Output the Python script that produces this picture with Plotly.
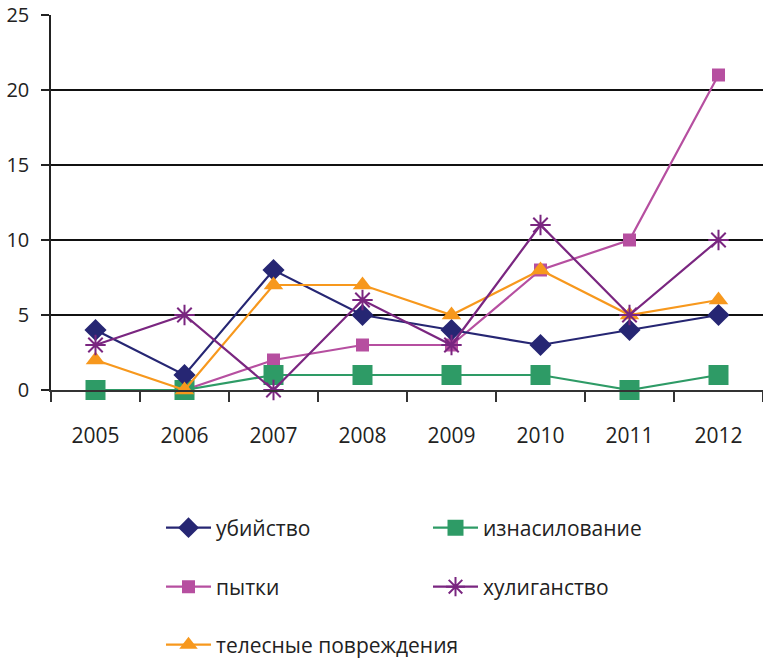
import plotly.graph_objects as go

years = ["2005", "2006", "2007", "2008", "2009", "2010", "2011", "2012"]
ubiystvo = [4, 1, 8, 5, 4, 3, 4, 5]
iznasilovanie = [0, 0, 1, 1, 1, 1, 0, 1]
pytki = [0, 0, 2, 3, 3, 8, 10, 21]
khuliganstvo = [3, 5, 0, 6, 3, 11, 5, 10]
telesnye = [2, 0, 7, 7, 5, 8, 5, 6]
y_ticks = [0, 5, 10, 15, 20, 25]

FONT = "Open Sans"
fig = go.Figure()

def add(name, vals, color, symbol, size, legend, rank, mline=None):
    marker = dict(symbol=symbol, size=size, color=color)
    if mline:
        marker["line"] = dict(color=color, width=mline)
    fig.add_trace(go.Scatter(
        x=years, y=vals, name=name, mode="lines+markers",
        line=dict(color=color, width=2.2), marker=marker,
        legend=legend, legendrank=rank, cliponaxis=False))

add("пытки", pytki, "#b64fa0", "square", 13, "legend2", 1)
add("изнасилование", iznasilovanie, "#2e9b66", "square", 20, "legend", 2)
add("убийство", ubiystvo, "#262673", "diamond", 17, "legend", 1)
add("телесные повреждения", telesnye, "#f7981d", "triangle-up", 17, "legend3", 1)
add("хулиганство", khuliganstvo, "#7a2680", "asterisk-open", 17, "legend2", 2, mline=2)

leg_common = dict(orientation="h", x=0.1545, xanchor="left", yanchor="middle",
                  yref="container",
                  font=dict(family=FONT, size=21, color="#222"),
                  bgcolor="rgba(0,0,0,0)", itemwidth=45)
leg_cols = dict(entrywidth=207, entrywidthmode="pixels")

fig.update_layout(
    width=763, height=660,
    margin=dict(l=51, r=0, t=15, b=270, autoexpand=False),
    paper_bgcolor="white", plot_bgcolor="white",
    font=dict(family=FONT, size=20, color="#222"),
    xaxis=dict(type="category", range=[-0.5, 7.5], tickson="boundaries",
               ticks="outside", ticklen=10, tickcolor="#333", tickwidth=1.5,
               showline=True, linecolor="#333", linewidth=1.5, showgrid=False,
               ticklabelstandoff=26,
               tickfont=dict(family=FONT, size=21, color="#222")),
    yaxis=dict(range=[0, 25], tickvals=y_ticks, ticks="outside", ticklen=8,
               tickcolor="#222", tickwidth=1.5, showline=True, linecolor="#222",
               linewidth=1.5, showgrid=True, gridcolor="#111", gridwidth=1.5,
               zeroline=False, ticklabelstandoff=8,
               tickfont=dict(family=FONT, size=20, color="#222")),
    yaxis2=dict(range=[0, 25], overlaying="y", tickvals=[25], showticklabels=False,
                showgrid=True, gridcolor="#999", gridwidth=2, zeroline=False,
                showline=False),
    legend=dict(y=0.2, **leg_common, **leg_cols),
    legend2=dict(y=0.1106, **leg_common, **leg_cols),
    legend3=dict(y=0.0227, **leg_common),
)
fig.add_trace(go.Scatter(x=[years[0]], y=[None], yaxis="y2", showlegend=False,
                         hoverinfo="skip"))

fig.write_html("out.html", config={"displayModeBar": False},
               post_script="document.body.style.margin='0';document.body.style.overflow='hidden';")
